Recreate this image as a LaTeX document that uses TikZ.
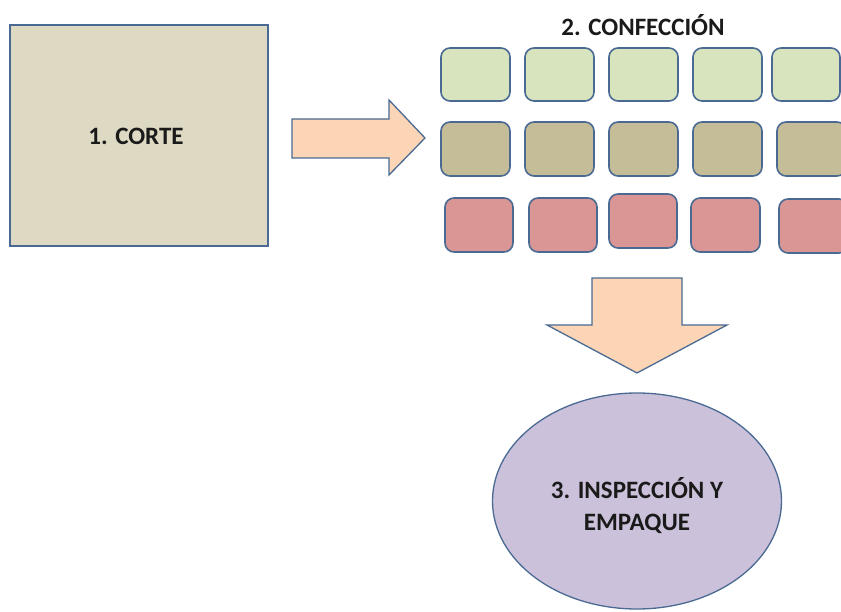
\documentclass[tikz,border=0pt]{standalone}
\usepackage{fontspec}
\setmainfont{Carlito}
\usetikzlibrary{shapes.geometric}

\definecolor{edgeblue}{HTML}{4A6A93}
\definecolor{cutfill}{HTML}{DDD9C3}
\definecolor{rowgreen}{HTML}{D7E4BD}
\definecolor{rowkhaki}{HTML}{C4BD97}
\definecolor{rowpink}{HTML}{D99694}
\definecolor{arrowfill}{HTML}{FBD5B5}
\definecolor{ovalfill}{HTML}{CCC1DA}
\definecolor{labelink}{HTML}{1A1A1A}

\tikzset{
  stagelabel/.style={font=\fontsize{25}{32}\selectfont\bfseries, text=labelink, align=center},
  cutbox/.style={draw=edgeblue, line width=1.6pt, fill=cutfill, inner sep=0pt,
    minimum width=258pt, minimum height=221pt},
  tile/.style={draw=edgeblue, line width=1.6pt, rounded corners=9pt, inner sep=0pt,
    minimum width=69pt, minimum height=54pt},
  greentile/.style={tile, fill=rowgreen},
  khakitile/.style={tile, fill=rowkhaki},
  pinktile/.style={tile, fill=rowpink},
  blockarrow/.style={draw=edgeblue, line width=1.3pt, fill=arrowfill, line join=miter},
  oval/.style={draw=edgeblue, line width=1.3pt, fill=ovalfill, ellipse,
    minimum width=289pt, minimum height=216pt, inner sep=0pt},
}

\begin{document}
\begin{tikzpicture}[x=1pt, y=-1pt]
  \useasboundingbox (0,0) rectangle (841,612);
  \clip (0,0) rectangle (841,612);

  % stage 1: cutting
  \node[cutbox] (corte) at (139,135.5) {};
  \node[stagelabel] (corteLabel) at (136,136) {1. CORTE};

  % stage 2: sewing lines, three rows of work stations
  \node[stagelabel] (confLabel) at (643,25) {2. CONFECCIÓN};

  \node[greentile, minimum height=53pt] (g1) at (475.5,74.5) {};
  \node[greentile, minimum height=53pt] (g2) at (559.5,74.5) {};
  \node[greentile, minimum height=53pt] (g3) at (643.5,74.5) {};
  \node[greentile, minimum height=53pt] (g4) at (727.5,74.5) {};
  \node[greentile, minimum height=53pt, minimum width=68pt] (g5) at (806,74.5) {};

  \node[khakitile] (k1) at (475.5,149) {};
  \node[khakitile] (k2) at (559.5,149) {};
  \node[khakitile] (k3) at (643.5,149) {};
  \node[khakitile] (k4) at (727.5,149) {};
  \node[khakitile] (k5) at (811.5,149) {};

  \node[pinktile, minimum width=68pt] (p1) at (479,225) {};
  \node[pinktile, minimum width=68pt] (p2) at (563,225) {};
  \node[pinktile, minimum width=68pt] (p3) at (643,221) {};
  \node[pinktile] (p4) at (725.5,225) {};
  \node[pinktile] (p5) at (813.5,226) {};

  % stage 3: inspection and packing
  \node[oval] (insp) at (637,501) {};
  \node[stagelabel] (inspLabel) at (637,506) {3. INSPECCIÓN Y\\EMPAQUE};

  % block arrow from cutting to sewing
  \draw[blockarrow] (292,119) -- (389,119) -- (389,100) -- (425,138)
    -- (389,175) -- (389,158) -- (292,158) -- cycle;

  % block arrow from sewing to inspection
  \draw[blockarrow] (592,278) -- (682,278) -- (682,325) -- (727,325)
    -- (637,373) -- (547,325) -- (592,325) -- cycle;
\end{tikzpicture}
\end{document}
